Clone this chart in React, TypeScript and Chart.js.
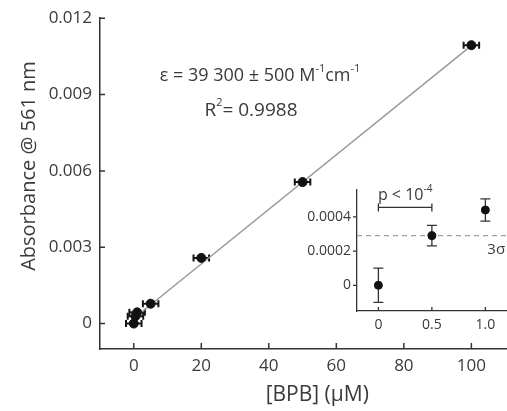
import { useEffect, useRef } from 'react';
import { Chart, registerables } from 'chart.js';
Chart.register(...registerables);

// ---- data ----
const mainConc = [0, 0.5, 1, 5, 20, 50, 100];
const mainAbs = [0, 0.00029, 0.00044, 0.00078, 0.00258, 0.00556, 0.01094];
const mainConcErr = [2.3, 2.3, 2.3, 2.3, 2.3, 2.3, 2.3];
const mainAbsErr = [0.0001, 0.00006, 0.000065, 0.00008, 0.00008, 0.00008, 0.00008];
const fitConc = [0, 100];
const fitAbs = [0.0002, 0.01092];
const mainXTicks = [0, 20, 40, 60, 80, 100];
const mainYTicks = [0, 0.003, 0.006, 0.009, 0.012];

const insetConc = [0, 0.5, 1.0];
const insetAbs = [0, 0.00029, 0.00044];
const insetAbsErr = [0.0001, 0.00006, 0.000065];
const insetXTicks = [0, 0.5, 1.0];
const insetYTicks = [0, 0.0002, 0.0004];
const threeSigma = 0.00029;
const pBracket = [0, 0.5];
const pBracketLevel = 0.000455;

const FONT = '"Open Sans", sans-serif';
const TXT = '#3a3a3a';
const AX = '#333';

type Part = { t: string; sup?: boolean };
function drawRich(ctx: CanvasRenderingContext2D, parts: Part[], cx: number, cy: number, size: number, align: 'center' | 'left' = 'center') {
  const supSize = Math.round(size * 0.6);
  let w = 0;
  for (const p of parts) {
    ctx.font = `${p.sup ? supSize : size}px ${FONT}`;
    w += ctx.measureText(p.t).width;
  }
  let x = align === 'center' ? cx - w / 2 : cx;
  ctx.textBaseline = 'middle';
  ctx.textAlign = 'left';
  for (const p of parts) {
    ctx.font = `${p.sup ? supSize : size}px ${FONT}`;
    ctx.fillText(p.t, x, p.sup ? cy - size * 0.42 : cy);
    x += ctx.measureText(p.t).width;
  }
}

export default function App() {
  const mainRef = useRef<HTMLCanvasElement>(null);
  const insetRef = useRef<HTMLCanvasElement>(null);

  useEffect(() => {
    document.body.style.margin = '0';
    const mainPlugin = {
      id: 'mainDeco',
      beforeDatasetsDraw(chart: any) {
        const { ctx, scales } = chart;
        const xs = scales.x, ys = scales.y;
        ctx.save();
        ctx.strokeStyle = '#161616';
        ctx.lineWidth = 2;
        mainConc.forEach((c, i) => {
          const px = xs.getPixelForValue(c), py = ys.getPixelForValue(mainAbs[i]);
          const x0 = xs.getPixelForValue(c - mainConcErr[i]), x1 = xs.getPixelForValue(c + mainConcErr[i]);
          const y0 = ys.getPixelForValue(mainAbs[i] - mainAbsErr[i]), y1 = ys.getPixelForValue(mainAbs[i] + mainAbsErr[i]);
          ctx.beginPath();
          ctx.moveTo(x0, py); ctx.lineTo(x1, py);
          ctx.moveTo(x0, py - 3.5); ctx.lineTo(x0, py + 3.5);
          ctx.moveTo(x1, py - 3.5); ctx.lineTo(x1, py + 3.5);
          ctx.moveTo(px, y0); ctx.lineTo(px, y1);
          ctx.moveTo(px - 3.5, y0); ctx.lineTo(px + 3.5, y0);
          ctx.moveTo(px - 3.5, y1); ctx.lineTo(px + 3.5, y1);
          ctx.stroke();
        });
        ctx.restore();
      },
      afterDraw(chart: any) {
        const { ctx, scales, chartArea } = chart;
        const xs = scales.x, ys = scales.y;
        ctx.save();
        ctx.strokeStyle = AX;
        ctx.lineWidth = 1.5;
        ctx.beginPath();
        mainXTicks.forEach(v => {
          const px = xs.getPixelForValue(v);
          ctx.moveTo(px, chartArea.bottom); ctx.lineTo(px, chartArea.bottom - 6);
        });
        mainYTicks.forEach(v => {
          const py = ys.getPixelForValue(v);
          ctx.moveTo(chartArea.left, py); ctx.lineTo(chartArea.left + 5, py);
        });
        ctx.stroke();
        ctx.fillStyle = TXT;
        // axis titles
        ctx.font = `21px ${FONT}`;
        ctx.textAlign = 'center';
        ctx.textBaseline = 'middle';
        ctx.fillText('[BPB] (\u03BCM)', (chartArea.left + chartArea.right) / 2, 395);
        ctx.font = `20px ${FONT}`;
        ctx.save();
        ctx.translate(29, 166);
        ctx.rotate(-Math.PI / 2);
        ctx.fillText('Absorbance @ 561 nm', 0, 0);
        ctx.restore();
        // annotations
        drawRich(ctx, [{ t: '\u03B5 = 39 300 \u00B1 500 M' }, { t: '-1', sup: true }, { t: 'cm' }, { t: '-1', sup: true }], 260, 76, 18);
        drawRich(ctx, [{ t: 'R' }, { t: '2', sup: true }, { t: '= 0.9988' }], 251, 111, 19);
        ctx.restore();
      },
    };

    const main = new Chart(mainRef.current!, {
      type: 'scatter',
      data: {
        datasets: [
          {
            type: 'line',
            data: fitConc.map((x, i) => ({ x, y: fitAbs[i] })),
            borderColor: '#9a9a9a',
            borderWidth: 1.5,
            pointRadius: 0,
            order: 2,
          } as any,
          {
            data: mainConc.map((x, i) => ({ x, y: mainAbs[i] })),
            backgroundColor: '#111',
            borderColor: '#111',
            pointRadius: 4.5,
            order: 1,
          },
        ],
      },
      options: {
        responsive: false,
        animation: false,
        layout: { padding: { top: 16, right: 0, left: 0, bottom: 0 } },
        plugins: { legend: { display: false }, tooltip: { enabled: false } },
        scales: {
          x: {
            type: 'linear',
            min: -10,
            max: 118.7,
            afterBuildTicks: (s: any) => { s.ticks = mainXTicks.map(v => ({ value: v })); },
            afterFit: (s: any) => { s.height = 62; },
            grid: { display: false, drawTicks: false },
            border: { display: true, color: AX, width: 1.5 },
            ticks: { padding: 7, color: TXT, font: { family: FONT, size: 17 }, callback: (v: any) => String(v) },
          },
          y: {
            type: 'linear',
            min: -0.001,
            max: 0.012,
            afterBuildTicks: (s: any) => { s.ticks = mainYTicks.map(v => ({ value: v })); },
            afterFit: (s: any) => { s.width = 100; },
            grid: { display: false, drawTicks: false },
            border: { display: true, color: AX, width: 1.5 },
            ticks: { padding: 8, color: TXT, font: { family: FONT, size: 17 }, callback: (v: any) => (v === 0 ? '0' : Number(v).toFixed(3)) },
          },
        },
      },
      plugins: [mainPlugin],
    });

    const insetPlugin = {
      id: 'insetDeco',
      beforeDatasetsDraw(chart: any) {
        const { ctx, scales, chartArea } = chart;
        const xs = scales.x, ys = scales.y;
        ctx.save();
        // 3 sigma dashed line
        ctx.strokeStyle = '#a0a0a0';
        ctx.lineWidth = 1.2;
        ctx.setLineDash([5, 4]);
        const sy = ys.getPixelForValue(threeSigma);
        ctx.beginPath();
        ctx.moveTo(chartArea.left, sy); ctx.lineTo(chartArea.right, sy);
        ctx.stroke();
        ctx.setLineDash([]);
        // error bars
        ctx.strokeStyle = '#333';
        ctx.lineWidth = 1.3;
        insetConc.forEach((c, i) => {
          const px = xs.getPixelForValue(c);
          const y0 = ys.getPixelForValue(insetAbs[i] - insetAbsErr[i]);
          const y1 = ys.getPixelForValue(insetAbs[i] + insetAbsErr[i]);
          ctx.beginPath();
          ctx.moveTo(px, y0); ctx.lineTo(px, y1);
          ctx.moveTo(px - 5, y0); ctx.lineTo(px + 5, y0);
          ctx.moveTo(px - 5, y1); ctx.lineTo(px + 5, y1);
          ctx.stroke();
        });
        // p bracket
        const bx0 = xs.getPixelForValue(pBracket[0]), bx1 = xs.getPixelForValue(pBracket[1]);
        const by = ys.getPixelForValue(pBracketLevel);
        ctx.beginPath();
        ctx.moveTo(bx0, by); ctx.lineTo(bx1, by);
        ctx.moveTo(bx0, by - 4); ctx.lineTo(bx0, by + 4);
        ctx.moveTo(bx1, by - 4); ctx.lineTo(bx1, by + 4);
        ctx.stroke();
        ctx.fillStyle = TXT;
        drawRich(ctx, [{ t: 'p < 10' }, { t: '-4', sup: true }], (bx0 + bx1) / 2, by - 12, 16);
        // 3 sigma label
        ctx.font = `15px ${FONT}`;
        ctx.textAlign = 'left';
        ctx.textBaseline = 'middle';
        ctx.fillText('3\u03C3', xs.getPixelForValue(1.0) + 2, sy + 14);
        ctx.restore();
      },
      afterDraw(chart: any) {
        const { ctx, scales, chartArea } = chart;
        const xs = scales.x, ys = scales.y;
        ctx.save();
        ctx.strokeStyle = AX;
        ctx.lineWidth = 1.3;
        ctx.beginPath();
        insetXTicks.forEach(v => {
          const px = xs.getPixelForValue(v);
          ctx.moveTo(px, chartArea.bottom); ctx.lineTo(px, chartArea.bottom - 4);
        });
        insetYTicks.forEach(v => {
          const py = ys.getPixelForValue(v);
          ctx.moveTo(chartArea.left, py); ctx.lineTo(chartArea.left - 4, py);
        });
        ctx.stroke();
        ctx.restore();
      },
    };

    const inset = new Chart(insetRef.current!, {
      type: 'scatter',
      data: {
        datasets: [
          {
            data: insetConc.map((x, i) => ({ x, y: insetAbs[i] })),
            backgroundColor: '#111',
            borderColor: '#111',
            pointRadius: 4,
          },
        ],
      },
      options: {
        responsive: false,
        animation: false,
        layout: { padding: { top: 10, right: 0, left: 0, bottom: 0 } },
        plugins: { legend: { display: false }, tooltip: { enabled: false } },
        scales: {
          x: {
            type: 'linear',
            min: -0.2,
            max: 1.464,
            afterBuildTicks: (s: any) => { s.ticks = insetXTicks.map(v => ({ value: v })); },
            afterFit: (s: any) => { s.height = 29; },
            grid: { display: false, drawTicks: false },
            border: { display: true, color: AX, width: 1.3 },
            ticks: { padding: 6, color: TXT, font: { family: FONT, size: 14 }, callback: (v: any) => (v === 0 ? '0' : Number(v).toFixed(1)) },
          },
          y: {
            type: 'linear',
            min: -0.00015,
            max: 0.00056,
            afterBuildTicks: (s: any) => { s.ticks = insetYTicks.map(v => ({ value: v })); },
            afterFit: (s: any) => { s.width = 57; },
            grid: { display: false, drawTicks: false },
            border: { display: true, color: AX, width: 1.3 },
            ticks: { padding: 6, color: TXT, font: { family: FONT, size: 14 }, callback: (v: any) => (v === 0 ? '0' : Number(v).toFixed(4)) },
          },
        },
      },
      plugins: [insetPlugin],
    });

    return () => {
      main.destroy();
      inset.destroy();
    };
  }, []);

  return (
    <div style={{ position: 'fixed', left: 0, top: 0, width: 507, height: 411, overflow: 'hidden', background: '#fff' }}>
      <canvas ref={mainRef} width={540} height={411} style={{ position: 'absolute', left: 0, top: 0, width: 540, height: 411 }} />
      <canvas ref={insetRef} width={240} height={165} style={{ position: 'absolute', left: 300, top: 175, width: 240, height: 165 }} />
    </div>
  );
}
